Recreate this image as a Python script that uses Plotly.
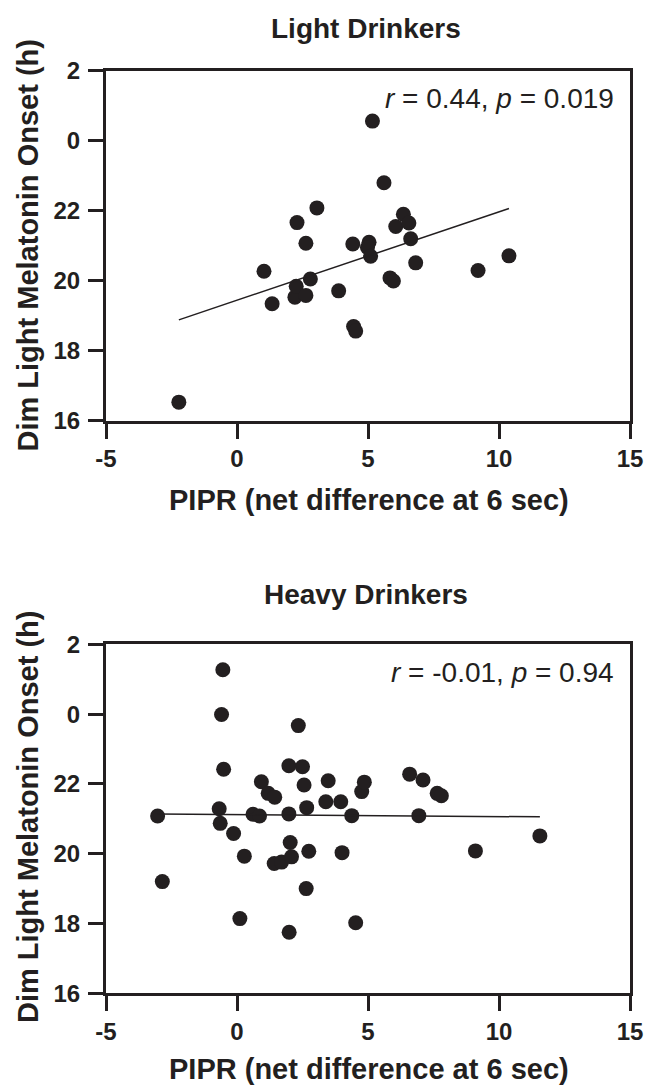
import numpy as np
import plotly.graph_objects as go

# ---------------- data ----------------
light_x = [-2.22, 1.03, 1.34, 2.21, 2.26, 2.29, 2.63, 2.63, 2.80, 3.05, 3.88, 4.42, 4.45, 4.53,
           5.04, 4.98, 5.10, 5.17, 5.61, 5.84, 5.97, 6.06, 6.35, 6.56, 6.63, 6.82, 9.20, 10.38]
light_y = [16.53, 20.27, 19.34, 19.53, 19.84, 21.66, 19.58, 21.07, 20.05, 22.08, 19.71, 21.05, 18.69, 18.56,
           21.10, 20.95, 20.70, 24.56, 22.80, 20.08, 19.99, 21.55, 21.90, 21.65, 21.20, 20.51, 20.29, 20.71]

heavy_x = [-3.03, -2.85, -0.68, -0.64, -0.59, -0.54, -0.51, -0.13, 0.11, 0.28, 0.61, 0.86, 0.93, 1.19,
           1.44, 1.42, 1.70, 1.98, 1.98, 1.99, 2.03, 2.08, 2.34, 2.50, 2.56, 2.64, 2.66, 2.74,
           3.39, 3.48, 3.96, 4.01, 4.38, 4.53, 4.76, 4.86, 6.59, 6.94, 7.10, 7.64, 7.80, 9.10, 11.56]
heavy_y = [21.08, 19.20, 21.29, 20.87, 23.99, 25.27, 22.42, 20.58, 18.14, 19.93, 21.13, 21.08, 22.06, 21.73,
           21.62, 19.72, 19.76, 22.52, 21.14, 17.75, 20.32, 19.91, 23.67, 22.49, 21.97, 19.00, 21.32, 20.07,
           21.49, 22.09, 21.49, 20.03, 21.09, 18.02, 21.78, 22.05, 22.28, 21.09, 22.11, 21.73, 21.66, 20.08, 20.51]

titles = ["Light Drinkers", "Heavy Drinkers"]
stats = ["<i>r</i> = 0.44, <i>p</i> = 0.019", "<i>r</i> = -0.01, <i>p</i> = 0.94"]
x_tickvals = [-5, 0, 5, 10, 15]
x_ticktext = ["-5", "0", "5", "10", "15"]
y_tickvals = [16, 18, 20, 22, 24, 26]
y_ticktext = ["16", "18", "20", "22", "0", "2"]
x_title = "PIPR (net difference at 6 sec)"
y_title = "Dim Light Melatonin Onset (h)"

# ---------------- figure ----------------
INK = "#231f20"
FONT = "Liberation Sans, Arial, Helvetica, sans-serif"
W, H = 646, 1088
ML, MR = 106, 16

fig = go.Figure()

panels = [
    dict(x=light_x, y=light_y, ax="x", ay="y", dom=[0.61333, 0.93502]),
    dict(x=heavy_x, y=heavy_y, ax="x2", ay="y2", dom=[0.08704, 0.40781]),
]

for i, p in enumerate(panels):
    xs = np.array(p["x"])
    ys = np.array(p["y"])
    fig.add_trace(go.Scatter(x=xs, y=ys, mode="markers", xaxis=p["ax"], yaxis=p["ay"],
                             marker=dict(size=15, color=INK, line=dict(width=0)),
                             showlegend=False))
    k, b = np.polyfit(xs, ys, 1)
    lx = np.array([xs.min(), xs.max()])
    fig.add_trace(go.Scatter(x=lx, y=k * lx + b, mode="lines", xaxis=p["ax"], yaxis=p["ay"],
                             line=dict(color=INK, width=1.5), showlegend=False))

axis_common = dict(showline=True, linecolor=INK, linewidth=3, mirror=True,
                   ticks="outside", ticklen=15, tickwidth=3, tickcolor=INK,
                   showgrid=False, zeroline=False, automargin=False,
                   ticklabeloverflow="allow",
                   tickfont=dict(family=FONT, size=24, color=INK))

layout = dict(width=W, height=H, margin=dict(l=ML, r=MR, t=0, b=0, pad=0, autoexpand=False),
              paper_bgcolor="white", plot_bgcolor="white", showlegend=False)

for i, p in enumerate(panels):
    sx = "" if i == 0 else str(i + 1)
    layout["xaxis" + sx] = dict(axis_common, range=[-5, 15], tickvals=x_tickvals,
                                ticktext=["<b>%s</b>" % t for t in x_ticktext],
                                anchor="y" + sx, domain=[0, 1])
    layout["yaxis" + sx] = dict(axis_common, range=[16, 26], tickvals=y_tickvals,
                                ticktext=["<b>%s</b>" % t for t in y_ticktext],
                                ticklabelstandoff=3,
                                anchor="x" + sx, domain=p["dom"])

fig.update_layout(**layout)

def px_y(py):
    return 1 - py / H

def px_x(px):
    return (px - ML) / (W - ML - MR)

ann = []
# panel titles
for t, cy in zip(titles, [29, 594]):
    ann.append(dict(text="<b>%s</b>" % t, x=px_x(366), y=px_y(cy), xref="paper", yref="paper",
                    xanchor="center", yanchor="middle", showarrow=False,
                    font=dict(family=FONT, size=28, color=INK)))
# stats
for i, (s, cy) in enumerate(zip(stats, [98, 672])):
    ann.append(dict(text=s, x=px_x(616), y=px_y(cy), xref="paper", yref="paper",
                    xanchor="right", yanchor="middle", showarrow=False,
                    font=dict(family=FONT, size=28, color=INK)))
# x titles
ann.append(dict(text="<b>%s</b>" % x_title, x=px_x(369), y=px_y(500), xref="paper", yref="paper",
                xanchor="center", yanchor="middle", showarrow=False,
                font=dict(family=FONT, size=29, color=INK)))
ann.append(dict(text="<b>%s</b>" % x_title, x=px_x(369), y=px_y(1087), xref="paper", yref="paper",
                xanchor="center", yanchor="bottom", showarrow=False,
                font=dict(family=FONT, size=29, color=INK)))
# y titles
for cy in [245.5, 817]:
    ann.append(dict(text="<b>%s</b>" % y_title, x=px_x(28), y=px_y(cy), xref="paper", yref="paper",
                    xanchor="center", yanchor="middle", showarrow=False, textangle=-90,
                    font=dict(family=FONT, size=29, color=INK)))
fig.update_layout(annotations=ann)

fig.write_html("out.html", config={"displayModeBar": False},
               post_script="document.body.style.margin='0px';")
